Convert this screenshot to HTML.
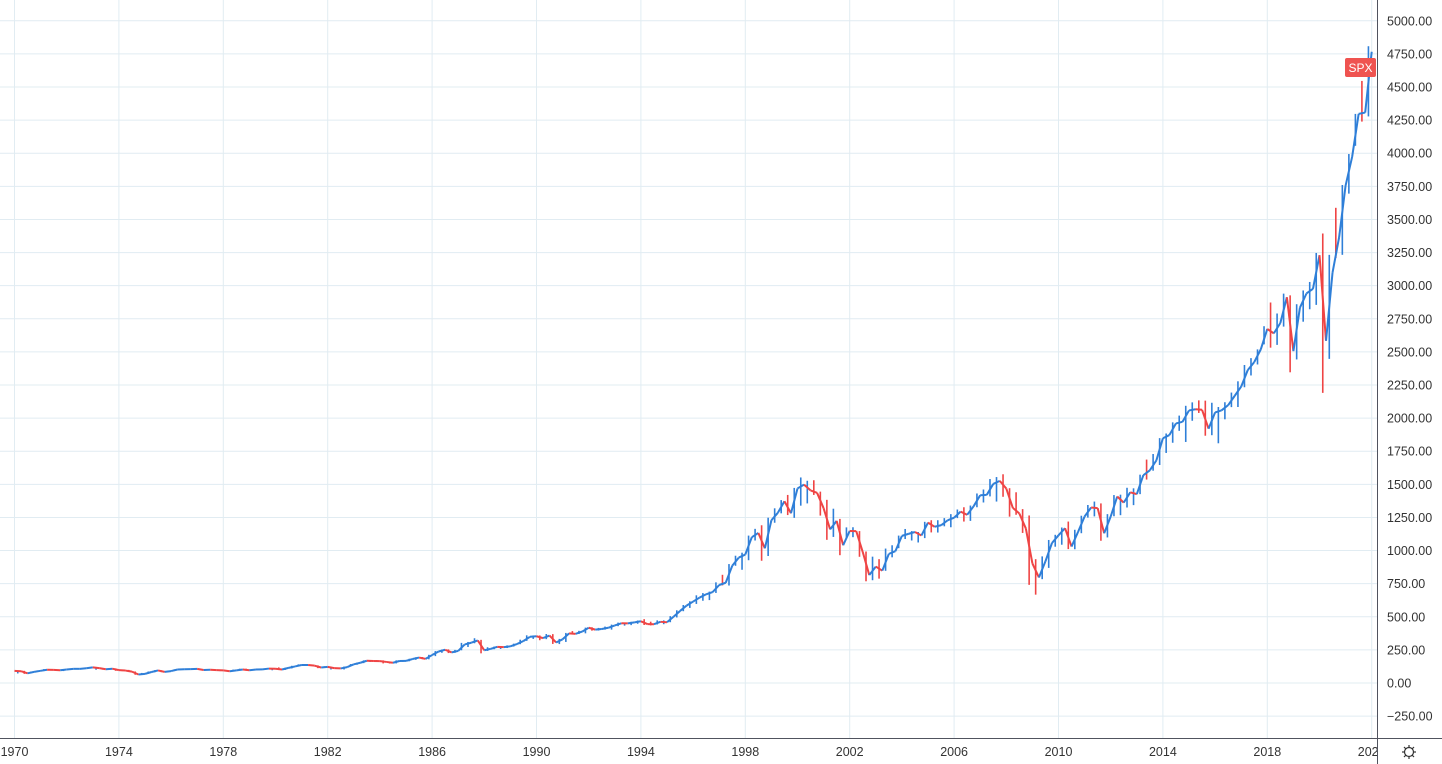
<!DOCTYPE html>
<html><head><meta charset="utf-8"><style>
html,body{margin:0;padding:0;background:#fff;width:1442px;height:764px;overflow:hidden;font-family:"Liberation Sans",sans-serif}
svg{display:block}
</style></head><body>
<svg id="c" width="1442" height="764"></svg>
<script>
const years=[1970,1974,1978,1982,1986,1990,1994,1998,2002,2006,2010,2014,2018,2022];
const yTicks=[-250,0,250,500,750,1000,1250,1500,1750,2000,2250,2500,2750,3000,3250,3500,3750,4000,4250,4500,4750,5000];
const startValue=92;
const quarterCloses=[
89,73,84,92, 100,99,96,102, 107,107,111,118, 112,104,108,97, 94,86,64,69,
83,95,84,90, 102,104,105,107, 98,100,97,95, 89,95,102,96, 102,103,109,108,
102,114,125,136, 136,131,117,122, 112,110,120,141, 153,168,166,165, 159,153,166,167,
181,192,182,211, 238,251,231,242, 291,304,321,247, 258,273,271,277, 294,317,349,353,
339,358,306,330, 375,371,388,417, 403,408,417,435, 451,450,458,466, 445,444,462,459,
500,544,584,615, 645,670,687,740, 757,885,947,970, 1101,1133,1017,1229, 1286,1372,1282,1469,
1498,1454,1436,1320, 1160,1224,1040,1148, 1147,989,815,879, 848,975,995,1111, 1126,1140,1114,1211,
1180,1191,1228,1248, 1294,1270,1335,1418, 1420,1503,1526,1468, 1322,1280,1166,903, 797,919,1057,1115,
1169,1030,1141,1257, 1325,1320,1131,1257, 1408,1362,1440,1426, 1569,1606,1681,1848, 1872,1960,1972,2058,
2067,2063,1920,2043, 2059,2098,2168,2238, 2362,2423,2519,2673, 2640,2718,2913,2506, 2834,2941,2976,3230,
2584,3100,3363,3756, 3972,4297,4307,4766];
const quarterLows=[
72,69,72,84, 90,97,94,90, 101,104,106,110, 100,101,101,92, 90,84,62,62,
70,81,82,85, 90,98,99,99, 97,97,95,90, 87,87,94,93, 96,97,101,96,
98,99,110,126, 129,128,112,116, 102,107,102,133, 138,150,159,160, 148,147,148,160,
164,175,180,179, 203,228,226,228, 247,272,300,224, 242,255,257,264, 275,293,318,333,
323,331,295,294, 310,368,370,375, 395,396,403,403, 429,433,437,447, 438,435,442,444,
459,495,542,567, 597,621,626,680, 737,736,885,855, 927,1076,923,959, 1210,1281,1268,1247,
1339,1356,1420,1264, 1081,1103,965,1094, 1101,953,768,776, 788,847,949,1018, 1087,1076,1061,1094,
1137,1136,1183,1176, 1245,1219,1224,1327, 1363,1409,1370,1406, 1256,1270,1133,741, 667,784,869,1029,
1044,1011,1010,1131, 1249,1258,1074,1099, 1259,1267,1325,1343, 1426,1536,1603,1646, 1737,1814,1904,1820,
1980,2039,1867,1871, 1810,1991,2083,2084, 2233,2322,2405,2557, 2532,2553,2691,2346, 2443,2728,2822,2855,
2191,2447,3209,3233, 3695,4056,4239,4278];
const quarterHighs=[
94,92,86,95, 105,105,100,102, 108,111,112,121, 121,113,112,110, 100,99,87,76,
87,97,96,93, 103,106,108,107, 106,101,101,98, 94,101,108,108, 103,103,111,112,
118,116,130,141, 139,138,133,126, 122,117,124,143, 154,171,172,173, 171,161,171,173,
183,194,196,213, 241,253,254,250, 303,310,338,326, 270,275,278,284, 297,327,360,359,
359,370,369,333, 378,392,394,418, 421,416,426,441, 456,455,462,472, 482,463,473,473,
505,549,589,617, 662,679,690,760, 817,898,961,984, 1113,1164,1191,1248, 1319,1381,1420,1473,
1552,1527,1531,1445, 1383,1316,1239,1175, 1176,1147,993,954, 935,1015,1040,1113, 1163,1147,1140,1217,
1229,1229,1245,1275, 1310,1327,1340,1431, 1461,1540,1555,1576, 1471,1440,1313,1265, 935,956,1080,1119,
1174,1219,1157,1263, 1344,1370,1356,1275, 1419,1422,1474,1470, 1573,1687,1729,1849, 1884,1968,2019,2093,
2119,2134,2132,2116, 2084,2120,2193,2278, 2401,2453,2519,2694, 2873,2790,2940,2927, 2860,2964,3028,3247,
3394,3233,3588,3760, 3994,4297,4546,4808];

const svg=document.getElementById('c');
const NS='http://www.w3.org/2000/svg';
const xOf=t=>14.5+(t-1970)*26.1;
const yOf=v=>683-v*0.13244;
function mk(tag,attrs,parent){const e=document.createElementNS(NS,tag);for(const k in attrs)e.setAttribute(k,attrs[k]);(parent||svg).appendChild(e);return e;}

const grid=mk('g',{});


yTicks.forEach(v=>{
  const l=mk('line',{x1:0,x2:1377,y1:yOf(v),y2:yOf(v),stroke:'#e1ecf2','stroke-width':1},grid);
  
  
  const t=mk('text',{x:1387,y:yOf(v)+4.5,'font-size':12.5,fill:'#333'},svg);
  t.textContent=v<0?'\u2212'+Math.abs(v).toFixed(2):v.toFixed(2);
  
  
});
years.forEach(y=>{
  const x=xOf(y);
  const l=mk('line',{x1:x,x2:x,y1:0,y2:738,stroke:'#e1ecf2','stroke-width':1},grid);
  
  
  const t=mk('text',{x:x,y:756,'font-size':12.5,fill:'#333','text-anchor':'middle'},svg);
  t.textContent=y;
  
  
});
const mask=mk('rect',{x:1378,y:739,width:64,height:25,fill:'#fff'});



const series=mk('g',{});


let prev=startValue;
quarterCloses.forEach((c,i)=>{
  const t0=1970+i/4, t1=1970+(i+1)/4;
  const up=c>=prev;
  const col=up?'#2f7fd8':'#ef4444';
  const mid=(quarterHighs[i]+quarterLows[i])/2;
  const wcol=c>=mid?'#2f7fd8':'#ef4444';
  const x=xOf(t1-0.125);
  const w=mk('line',{x1:x,x2:x,y1:yOf(quarterHighs[i]),y2:yOf(quarterLows[i]),stroke:wcol,'stroke-width':1.6},series);
  
  
  const s=mk('line',{x1:xOf(t0),x2:xOf(t1),y1:yOf(prev),y2:yOf(c),stroke:col,'stroke-width':2},series);
  
  
  prev=c;
});
</script>
<svg style="position:absolute;left:0;top:0" width="1442" height="764">
<line x1="1377.5" y1="0" x2="1377.5" y2="764" stroke="#50535e" stroke-width="1"/>
<line x1="0" y1="738.5" x2="1442" y2="738.5" stroke="#50535e" stroke-width="1"/>
<g>
<rect x="1345" y="58" width="31" height="19" rx="2" fill="#ef5350"/>
<text x="1360.5" y="72" font-size="12" fill="#fff" text-anchor="middle" font-family="Liberation Sans, sans-serif">SPX</text>
</g>
<g transform="translate(1409,752)" stroke="#333" fill="none" stroke-width="1.2">
<circle r="4.5"/>
<line x1="0" y1="-7" x2="0" y2="-4.5"/><line x1="0" y1="7" x2="0" y2="4.5"/>
<line x1="-7" y1="0" x2="-4.5" y2="0"/><line x1="7" y1="0" x2="4.5" y2="0"/>
<line x1="-5" y1="-5" x2="-3.2" y2="-3.2"/><line x1="5" y1="5" x2="3.2" y2="3.2"/>
<line x1="-5" y1="5" x2="-3.2" y2="3.2"/><line x1="5" y1="-5" x2="3.2" y2="-3.2"/>
</g>
</svg>
</body></html>
